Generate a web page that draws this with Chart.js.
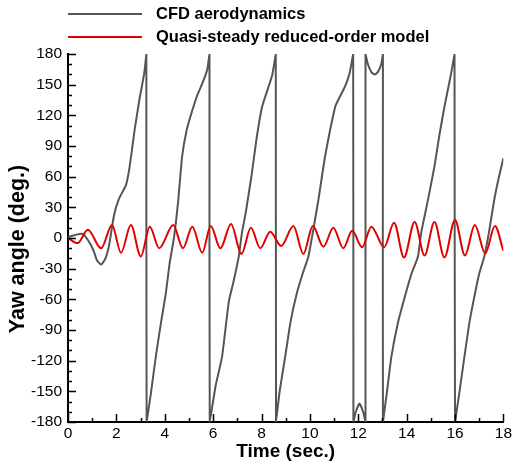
<!DOCTYPE html>
<html>
<head>
<meta charset="utf-8">
<script src="https://cdn.jsdelivr.net/npm/chart.js@4/dist/chart.umd.min.js"></script>
<style>
  html, body { margin: 0; padding: 0; background: #fff; }
  #wrap { width: 514px; height: 466px; position: relative; }
</style>
</head>
<body>
<div id="wrap"><canvas id="yawChart" width="514" height="466"></canvas></div>
<script>
// CFD yaw angle, wraps at +/-180 (same t twice = vertical jump)
const cfdTime = [0, 0.3, 0.6, 0.85, 1.05, 1.2, 1.37, 1.55, 1.7, 1.9, 2.1, 2.4, 2.55, 2.75, 2.95, 3.15, 3.24,
  3.25, 3.45, 3.63, 3.85, 4.04, 4.2, 4.38, 4.55, 4.72, 4.9, 5.14, 5.35, 5.55, 5.75, 5.85,
  5.86, 6.1, 6.37, 6.65, 6.85, 7.06, 7.19, 7.35, 7.6, 7.8, 8.02, 8.29, 8.45, 8.59,
  8.6, 8.75, 8.98, 9.2, 9.45, 9.7, 9.94, 10.14, 10.35, 10.63, 11.04, 11.17, 11.45, 11.65, 11.79,
  11.8, 11.9, 12.05, 12.2, 12.3, 12.3, 12.4, 12.55, 12.68, 12.8, 12.95, 13.02,
  13.02, 13.2, 13.37, 13.65, 13.92, 14.2, 14.47, 14.6, 14.88, 15.15, 15.35, 15.56, 15.84, 15.98,
  16.0, 16.2, 16.39, 16.6, 16.82, 17.0, 17.21, 17.4, 17.62, 17.8, 18.0];
const cfdYaw = [1, 3, 4, -3, -12, -22, -26, -20, -7, 22, 38, 52, 70, 105, 135, 161, 180,
  -180, -148, -116, -82, -55, -25, 0, 35, 80, 105, 125, 140, 151, 164, 180,
  -180, -145, -116, -62, -42, -18, 5, 25, 63, 98, 128, 148, 160, 180,
  -180, -150, -116, -82, -55, -35, -18, 8, 37, 80, 128, 135, 148, 162, 180,
  -180, -170, -162, -170, -180, 180, 170, 162, 160, 162, 170, 180,
  -180, -148, -116, -82, -58, -35, -18, 5, 37, 70, 100, 128, 161, 180,
  -180, -148, -116, -82, -55, -35, -18, 5, 37, 58, 78];

// quasi-steady model, peaks and troughs
const qsTime = [0, 0.4, 0.82, 1.37, 1.82, 2.19, 2.6, 3.01, 3.38, 3.77, 4.35, 4.75, 5.14, 5.55, 5.9,
  6.3, 6.74, 7.17, 7.56, 7.95, 8.36, 8.81, 9.32, 9.73, 10.12, 10.56, 10.97, 11.38, 11.75,
  12.16, 12.54, 13.07, 13.48, 13.89, 14.33, 14.74, 15.15, 15.56, 16.0, 16.41, 16.82, 17.25, 17.65, 18];
const qsYaw = [0, -5, 8, -10, 12.7, -14.4, 12.7, -18, 11, -10, 12.7, -10, 11, -14.4, 11.7,
  -10, 13.7, -15.7, 10, -10, 6.2, -7.8, 11.7, -15.7, 11.7, -8.5, 10, -10, 7,
  -9, 11, -9, 15, -19, 15.7, -17, 15.7, -19, 17.6, -17, 12.7, -15, 11.7, -12.5];

const xTicks = [0, 2, 4, 6, 8, 10, 12, 14, 16, 18];
const yTicks = [-180, -150, -120, -90, -60, -30, 0, 30, 60, 90, 120, 150, 180];
const seriesNames = ['CFD aerodynamics', 'Quasi-steady reduced-order model'];
const seriesColors = ['#555555', '#e00000'];
const yTitle = 'Yaw angle (deg.)';

function toPoints(xs, ys) {
  return xs.map((x, i) => ({ x: x, y: ys[i] }));
}

// inward tick marks, y title and legend
const tecplotBits = {
  id: 'tecplotBits',
  afterDraw(chart) {
    const ctx = chart.ctx;
    const xs = chart.scales.x, ys = chart.scales.y;
    const area = chart.chartArea;
    ctx.save();
    ctx.strokeStyle = '#000';
    ctx.lineWidth = 1.5;
    ctx.beginPath();
    for (let v = xs.min; v <= xs.max; v += 1) {
      const px = Math.round(xs.getPixelForValue(v)) + 0.5;
      const len = v % 2 === 0 ? 8 : 4;
      ctx.moveTo(px, area.bottom);
      ctx.lineTo(px, area.bottom - len);
    }
    for (let v = ys.min; v <= ys.max; v += 10) {
      const py = Math.round(ys.getPixelForValue(v)) + 0.5;
      const len = v % 30 === 0 ? 8 : 4;
      ctx.moveTo(area.left, py);
      ctx.lineTo(area.left + len, py);
    }
    ctx.stroke();

    // y title sits a bit below the middle, like the original
    ctx.save();
    ctx.translate(18, 249);
    ctx.rotate(-Math.PI / 2);
    ctx.font = 'bold 21.5px "Liberation Sans", Arial, sans-serif';
    ctx.textAlign = 'center';
    ctx.textBaseline = 'middle';
    ctx.fillStyle = '#000';
    ctx.fillText(yTitle, 0, 0);
    ctx.restore();

    ctx.font = 'bold 16.5px "Liberation Sans", Arial, sans-serif';
    ctx.textBaseline = 'middle';
    ctx.fillStyle = '#000';
    const rows = [14, 37];
    seriesNames.forEach((name, i) => {
      ctx.strokeStyle = seriesColors[i];
      ctx.lineWidth = 2;
      ctx.beginPath();
      ctx.moveTo(68, rows[i]);
      ctx.lineTo(142, rows[i]);
      ctx.stroke();
      ctx.fillText(name, 156, rows[i]);
    });
    ctx.restore();
  }
};

new Chart(document.getElementById('yawChart'), {
  type: 'line',
  data: {
    datasets: [
      {
        label: seriesNames[1],
        data: toPoints(qsTime, qsYaw),
        borderColor: seriesColors[1],
        borderWidth: 2,
        pointRadius: 0,
        cubicInterpolationMode: 'monotone',
        order: 0
      },
      {
        label: seriesNames[0],
        data: toPoints(cfdTime, cfdYaw),
        borderColor: seriesColors[0],
        borderWidth: 2,
        pointRadius: 0,
        tension: 0.15,
        order: 1
      }
    ]
  },
  options: {
    responsive: false,
    animation: false,
    events: [],
    layout: { padding: { top: 54, right: 8, bottom: 0, left: 0 } },
    plugins: { legend: { display: false }, tooltip: { enabled: false } },
    scales: {
      x: {
        type: 'linear',
        min: 0, max: 18,
        afterBuildTicks: s => { s.ticks = xTicks.map(v => ({ value: v })); },
        afterFit: s => { s.height = 44; },
        grid: { display: false, drawTicks: false },
        border: { display: true, color: '#000', width: 2 },
        ticks: { color: '#000', padding: 2, maxRotation: 0, font: { family: '"Liberation Sans", Arial, sans-serif', size: 15.5 } },
        title: { display: true, text: 'Time (sec.)', color: '#000', padding: { top: 0, bottom: 3 },
          font: { family: '"Liberation Sans", Arial, sans-serif', size: 19, weight: 'bold' } }
      },
      y: {
        min: -180, max: 180,
        afterBuildTicks: s => { s.ticks = yTicks.map(v => ({ value: v })); },
        afterFit: s => { s.width = 68; },
        grid: { display: false, drawTicks: false },
        border: { display: true, color: '#000', width: 2 },
        ticks: { color: '#000', padding: 6, font: { family: '"Liberation Sans", Arial, sans-serif', size: 15.5 } },
        title: { display: false }
      }
    }
  },
  plugins: [tecplotBits]
});
</script>
</body>
</html>
